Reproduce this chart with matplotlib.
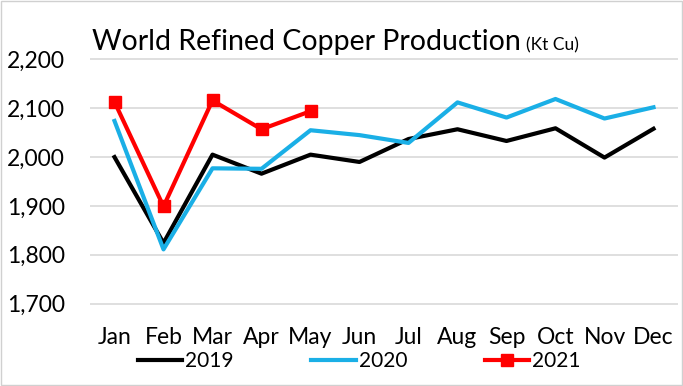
import matplotlib
matplotlib.use('Agg')
import matplotlib.pyplot as plt
from matplotlib.patches import Rectangle

months = ['Jan', 'Feb', 'Mar', 'Apr', 'May', 'Jun', 'Jul', 'Aug', 'Sep', 'Oct', 'Nov', 'Dec']
prod_2019 = [2000, 1824, 2005, 1966, 2005, 1990, 2037, 2057, 2033, 2059, 1999, 2058]
prod_2020 = [2074, 1811, 1977, 1976, 2055, 2045, 2029, 2112, 2081, 2119, 2079, 2102]
prod_2021 = [2113, 1899, 2116, 2057, 2094]
yticks = [1700, 1800, 1900, 2000, 2100, 2200]

plt.rcParams['font.family'] = ['Lato', 'DejaVu Sans']

fig = plt.figure(figsize=(6.83, 3.86), dpi=100)
ax = fig.add_axes([90 / 683, 1 - 306 / 386, 588 / 683, 249 / 386])

x = list(range(len(months)))
ax.plot(x, prod_2019, color='black', lw=3, label='2019')
ax.plot(x, prod_2020, color='#1aafe6', lw=3, label='2020')
ax.plot(x[:len(prod_2021)], prod_2021, color='#ff0000', lw=3, marker='s', ms=9,
        label='2021')

ax.set_xlim(-0.5, 11.5)
ax.set_ylim(1695, 2205)
ax.set_yticks(yticks)
ax.set_yticklabels([f'{v:,}' for v in yticks])
ax.set_xticks(x)
ax.set_xticklabels(months)
ax.tick_params(length=0, labelsize=16.5)
ax.tick_params(axis='x', pad=15)
ax.tick_params(axis='y', pad=18)
ax.grid(axis='y', color='#d9d9d9', lw=1.2)
ax.set_axisbelow(True)
for s in ax.spines.values():
    s.set_visible(False)

fig.text(92 / 683, 1 - 42 / 386, 'World Refined Copper Production', fontsize=20.5, va='center')
fig.text(526 / 683, 1 - 45 / 386, '(Kt Cu)', fontsize=12.5, va='center')

leg = fig.legend(loc='center', bbox_to_anchor=(0.526, 1 - 361 / 386), ncol=3, frameon=False,
                 fontsize=15, handlelength=2.15, handletextpad=0.15, columnspacing=3.7,
                 borderpad=0)

fig.patches.append(Rectangle((0.002, 0.003), 0.996, 0.994, transform=fig.transFigure,
                             fill=False, edgecolor='#d0d0d0', lw=1))

fig.savefig('out.png', dpi=100)
